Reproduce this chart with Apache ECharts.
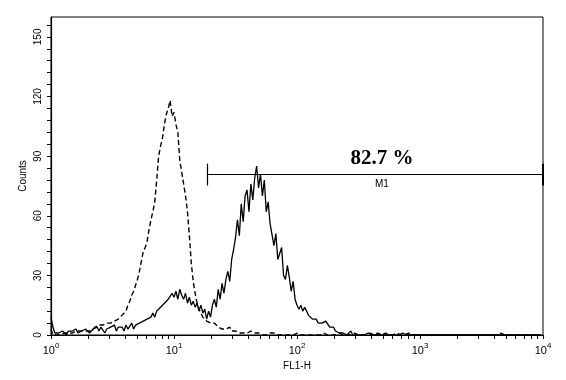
<!DOCTYPE html>
<html><head><meta charset="utf-8">
<script src="https://cdn.jsdelivr.net/npm/echarts@6/dist/echarts.min.js"></script>
<style>html,body{margin:0;padding:0;background:#fff}#c{width:566px;height:380px}</style>
</head><body><div id="c"></div>
<script>
// 256-channel log histogram, 64 channels per decade (10^0 .. 10^4)
const channelsPerDecade = 64;
const decades = [0, 1, 2, 3, 4];
const yTickLabels = [0, 30, 60, 90, 120, 150];
const yMinorStep = 6;
const yMax = 160;

// stained sample (solid line), counts per channel
const stained = [
  9,4,1,2,1,1,2,1,0,2,1,2,1,3,1,2,
  2,1,3,2,1,2,3,2,4,2,4,3,1,3,2,4,
  3,5,2,4,3,4,2,5,3,4,6,3,5,4,6,5,
  7,6,8,7,9,11,9,12,11,14,13,16,15,18,17,21,
  19,22,18,23,20,18,21,16,19,15,17,14,16,12,15,11,
  13,8,12,9,15,18,14,23,18,26,21,28,32,27,38,43,
  49,58,50,66,57,70,73,62,76,68,79,85,74,81,70,78,
  62,67,56,55,45,51,38,37,44,30,28,35,29,22,27,18,
  15,13,15,12,14,13,10,9,8,7,8,6,5,6,5,7,
  6,4,3,4,2,3,1,2,1,1,0,1,2,0,1,0,
  1,0,1,0,0,1,0,0,0,0,1,0,0,0,0,0,
  1,0,0,0,0,0,0,1,0,0,0,0,0,0,1,0,
  0,0,0,0,0,0,0,0,0,0,0,0,0,0,0,0,
  0,0,0,0,0,0,0,0,0,0,0,0,0,0,0,0,
  0,0,0,0,0,0,0,0,0,0,0,0,0,0,0,0,
  0,0,0,0,0,0,0,0,0,0,0,0,0,0,0,0
];

// isotype control (dashed line), counts per channel
const control = [
  3,0,1,0,1,0,1,1,0,1,2,1,1,2,1,2,
  1,2,3,2,3,2,3,4,3,5,4,5,4,6,5,6,
  5,7,7,8,9,10,11,12,15,17,20,22,25,28,32,37,
  42,44,47,53,58,62,67,78,90,95,99,106,111,114,118,110,
  112,106,102,88,82,76,70,62,50,36,27,21,16,13,11,9,
  8,7,7,6,5,6,5,4,4,3,4,3,3,4,2,3,
  2,2,1,2,1,2,1,1,2,1,1,0,1,1,0,1,
  0,1,1,0,1,0,0,0,0,1,0,0,0,0,0,0,
  1,0,0,0,0,0,0,1,0,0,0,0,0,0,1,0,
  0,0,0,0,0,0,1,0,0,0,0,0,0,0,1,0,
  0,0,0,0,0,0,1,0,0,0,1,0,0,0,1,1,
  0,0,0,0,1,0,0,0,0,0,1,0,0,0,0,0,
  0,0,0,1,0,0,0,0,0,0,0,1,0,0,0,0,
  0,0,0,0,0,1,0,0,0,0,0,0,0,0,0,0,
  0,0,0,0,0,0,0,0,0,0,1,0,0,0,0,0,
  0,0,0,0,0,0,0,0,0,0,0,0,0,0,0,0
];

// M1 gate marker
const markerRange = [18.7, 10000];
const markerLevel = 80.7;
const markerPercent = '82.7 %';
const markerName = 'M1';
const markerTextPos = [490, 88.7];
const markerNamePos = [490, 76];

const lg = Math.log10;
const toXY = arr => arr.map((v, i) => [i / channelsPerDecade, v]);

const xMinor = [];
for (let d = 0; d < 4; d++) for (let k = 1; k <= 9; k++) xMinor.push(lg(k * Math.pow(10, d)));
xMinor.push(4);
const yMinor = [];
for (let v = 0; v < yMax; v += yMinorStep) yMinor.push(v);

const chart = echarts.init(document.getElementById('c'));
const x1 = lg(markerRange[0]), x2 = lg(markerRange[1]);
chart.setOption({
  animation: false,
  backgroundColor: '#fff',
  grid: { left: 51, right: 23, top: 17, bottom: 45, show: true, borderColor: '#000', borderWidth: 1 },
  xAxis: {
    type: 'value', min: 0, max: 4, interval: 1,
    name: 'FL1-H', nameLocation: 'middle', nameGap: 24,
    nameTextStyle: { fontFamily: 'Liberation Sans', fontSize: 10, color: '#000' },
    axisLine: { lineStyle: { color: '#000', width: 1.2 } },
    axisTick: { show: true, inside: false, length: 4, customValues: xMinor, lineStyle: { color: '#000' } },
    axisLabel: {
      customValues: decades, margin: 7,
      formatter: v => '{b|10}{s|' + Math.round(v) + '}',
      rich: {
        b: { fontFamily: 'Liberation Sans', fontSize: 11, color: '#000', lineHeight: 14, verticalAlign: 'bottom' },
        s: { fontFamily: 'Liberation Sans', fontSize: 8, color: '#000', lineHeight: 14, verticalAlign: 'top' }
      }
    },
    splitLine: { show: false }
  },
  yAxis: {
    type: 'value', min: 0, max: yMax,
    name: 'Counts', nameLocation: 'middle', nameGap: 23, nameRotate: 90, nameMoveOverlap: false,
    nameTextStyle: { fontFamily: 'Liberation Sans', fontSize: 10, color: '#000' },
    axisLine: { show: true, lineStyle: { color: '#000', width: 1.2 } },
    axisTick: { show: true, inside: false, length: 4, customValues: yMinor, lineStyle: { color: '#000' } },
    axisLabel: { customValues: yTickLabels, rotate: 90, margin: 8, fontFamily: 'Liberation Sans', fontSize: 10, color: '#000' },
    splitLine: { show: false }
  },
  series: [
    {
      type: 'line', data: toXY(control), symbol: 'none',
      lineStyle: { color: '#000', width: 1.4, type: [5, 3] }
    },
    {
      type: 'line', data: toXY(stained), symbol: 'none',
      lineStyle: { color: '#000', width: 1.3 },
      markLine: {
        silent: true, symbol: 'none', label: { show: false },
        lineStyle: { color: '#000', width: 1.2, type: 'solid' },
        data: [
          [{ coord: [x1, markerLevel] }, { coord: [x2, markerLevel] }],
          [{ coord: [x1, markerLevel - 5.5] }, { coord: [x1, markerLevel + 5.5] }],
          [{ coord: [x2, markerLevel - 5.5], lineStyle: { width: 2 } }, { coord: [x2, markerLevel + 5.5] }]
        ]
      },
      markPoint: {
        silent: true, symbol: 'circle', symbolSize: 0,
        data: [
          { coord: [lg(markerTextPos[0]), markerTextPos[1]],
            label: { show: true, position: 'inside', formatter: markerPercent, fontFamily: 'Liberation Serif', fontWeight: 'bold', fontSize: 21, color: '#000' } },
          { coord: [lg(markerNamePos[0]), markerNamePos[1]],
            label: { show: true, position: 'inside', formatter: markerName, fontFamily: 'Liberation Sans', fontSize: 10, color: '#000' } }
        ]
      }
    }
  ]
});
</script>
</body></html>
